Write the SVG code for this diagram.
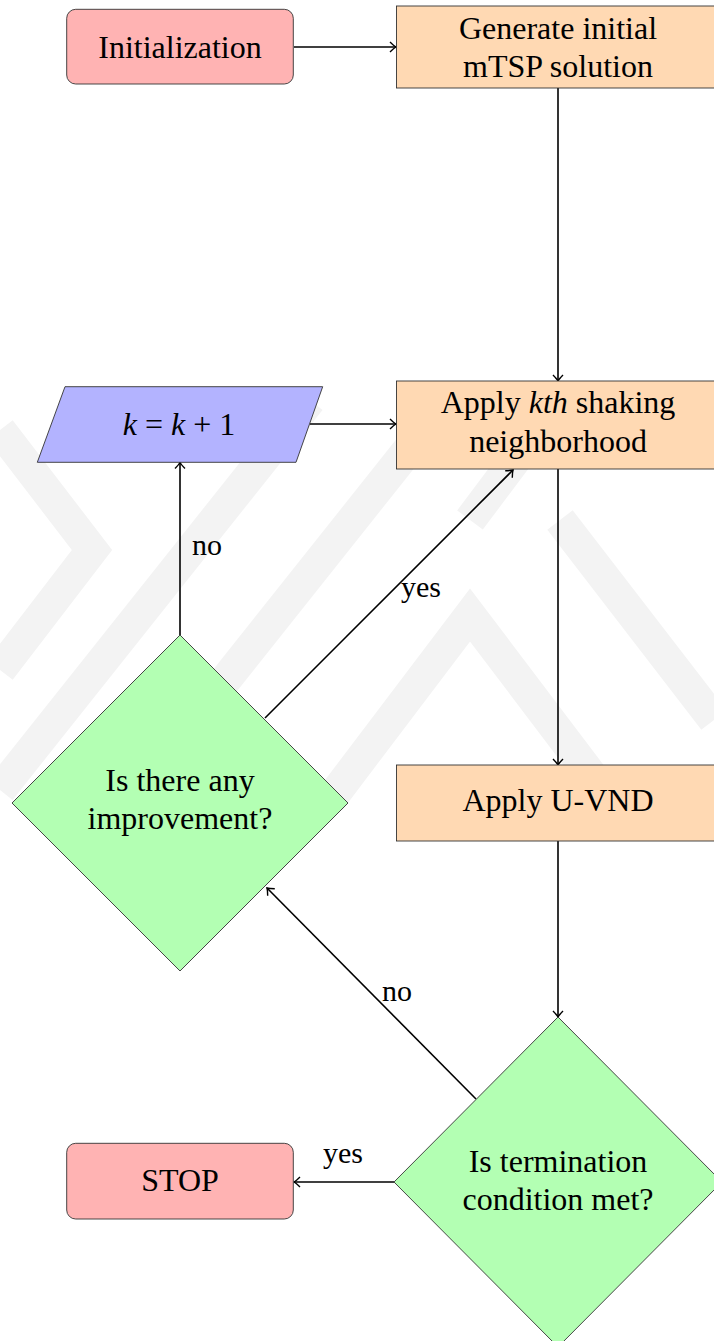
<svg xmlns="http://www.w3.org/2000/svg" width="714" height="1341" viewBox="0 0 714 1341">
  <style>
    text { font-family: 'Liberation Serif', 'Times New Roman', Times, serif; fill: #000; }
    .lbl { font-size: 32px; text-anchor: middle; }
    .edge-lbl { font-size: 30px; }
    .it { font-style: italic; }
    .start { fill: #ffb3b3; stroke: #333; stroke-width: 0.9; }
    .proc { fill: #ffd9b3; stroke: #333; stroke-width: 0.9; }
    .io { fill: #b3b3ff; stroke: #333; stroke-width: 0.9; }
    .dec { fill: #b3ffb3; stroke: #333; stroke-width: 0.9; }
    .edge { fill: none; stroke: #000; stroke-width: 1.6; marker-end: url(#arrow); }
    .wm { fill: none; stroke: #f3f3f3; stroke-width: 32; stroke-linecap: butt; stroke-linejoin: miter; }
  </style>
  <defs>
    <marker id="arrow" markerUnits="userSpaceOnUse" markerWidth="14" markerHeight="14" refX="0" refY="0" viewBox="-7 -7 14 14" orient="auto" overflow="visible">
      <path d="M-6,-5 Q-2,-1.1 0,0 Q-2,1.1 -6,5" fill="none" stroke="#000" stroke-width="1.4"/>
    </marker>
  </defs>

  <rect width="714" height="1341" fill="#fff"/>

  <!-- faint background emblem -->
  <g id="emblem">
    <polyline class="wm" points="0,430 92,550 0,670"/>
    <polyline class="wm" points="0,790 310,400"/>
    <polyline class="wm" points="130,800 440,410"/>
    <polyline class="wm" points="330,800 470,615 610,800"/>
    <polyline class="wm" points="470,520 560,400"/>
    <polyline class="wm" points="560,520 714,720"/>
  </g>

  <!-- connectors -->
  <g id="connectors">
    <line class="edge" x1="294" y1="47" x2="396" y2="47"/>
    <line class="edge" x1="558" y1="88" x2="558" y2="381"/>
    <line class="edge" x1="310" y1="424" x2="396" y2="424"/>
    <line class="edge" x1="558" y1="469" x2="558" y2="765"/>
    <line class="edge" x1="558" y1="841" x2="558" y2="1017"/>
    <line class="edge" x1="180" y1="635" x2="180" y2="462.5"/>
    <line class="edge" x1="265" y1="718" x2="513" y2="470"/>
    <line class="edge" x1="476" y1="1099" x2="267" y2="888"/>
    <line class="edge" x1="394" y1="1182" x2="294" y2="1182"/>
    <text class="edge-lbl" font-family="Liberation Serif" x="192" y="555">no</text>
    <text class="edge-lbl" font-family="Liberation Serif" x="401" y="597">yes</text>
    <text class="edge-lbl" font-family="Liberation Serif" x="382" y="1001">no</text>
    <text class="edge-lbl" font-family="Liberation Serif" x="323" y="1163">yes</text>
  </g>

  <g id="init">
    <rect class="start" x="66.7" y="9.3" width="226.6" height="74.7" rx="9"/>
    <text class="lbl" font-family="Liberation Serif" x="180" y="58">Initialization</text>
  </g>

  <g id="generate">
    <rect class="proc" x="396.5" y="6" width="323" height="82"/>
    <text class="lbl" font-family="Liberation Serif" x="558" y="39">Generate initial</text>
    <text class="lbl" font-family="Liberation Serif" x="558" y="77">mTSP solution</text>
  </g>

  <g id="increment">
    <polygon class="io" points="65,386.7 322.7,386.7 296,462.3 37.3,462.3"/>
    <text class="lbl" font-family="Liberation Serif" x="179" y="435"><tspan class="it">k</tspan> = <tspan class="it">k</tspan> + 1</text>
  </g>

  <g id="shake">
    <rect class="proc" x="396.5" y="381" width="323" height="88"/>
    <text class="lbl" font-family="Liberation Serif" x="558" y="413">Apply <tspan class="it">kth</tspan> shaking</text>
    <text class="lbl" font-family="Liberation Serif" x="558" y="452">neighborhood</text>
  </g>

  <g id="uvnd">
    <rect class="proc" x="396.5" y="765" width="323" height="76"/>
    <text class="lbl" font-family="Liberation Serif" x="558" y="811">Apply U-VND</text>
  </g>

  <g id="improve">
    <polygon class="dec" points="180,635 348,803 180,971 12,803"/>
    <text class="lbl" font-family="Liberation Serif" x="180" y="791">Is there any</text>
    <text class="lbl" font-family="Liberation Serif" x="180" y="829">improvement?</text>
  </g>

  <g id="terminate">
    <polygon class="dec" points="558,1017 722,1182 558,1347 394,1182"/>
    <text class="lbl" font-family="Liberation Serif" x="558" y="1172">Is termination</text>
    <text class="lbl" font-family="Liberation Serif" x="558" y="1210">condition met?</text>
  </g>

  <g id="stop">
    <rect class="start" x="66.7" y="1143.3" width="226.6" height="75.7" rx="9"/>
    <text class="lbl" font-family="Liberation Serif" x="180" y="1191">STOP</text>
  </g>
</svg>
